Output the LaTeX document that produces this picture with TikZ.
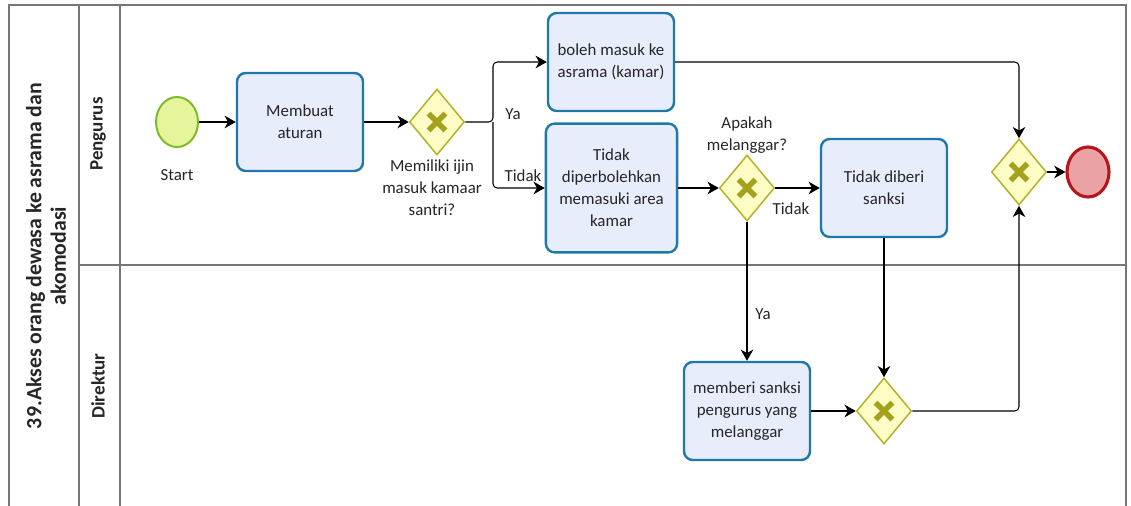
\documentclass[tikz,border=0pt]{standalone}
\usepackage{fontspec}
\setmainfont{Carlito}
\usetikzlibrary{arrows.meta,shapes.geometric}

\definecolor{taskfill}{HTML}{E8EDFB}
\definecolor{taskline}{HTML}{1F78A8}
\definecolor{gwfill}{HTML}{FFFDC6}
\definecolor{gwline}{HTML}{B4B42C}
\definecolor{gwmark}{HTML}{A2A21E}
\definecolor{startfill}{HTML}{E6F59C}
\definecolor{startline}{HTML}{7BBA28}
\definecolor{endfill}{HTML}{EBA2A5}
\definecolor{endline}{HTML}{B5161C}
\definecolor{laneline}{HTML}{767676}

\begin{document}
\begin{tikzpicture}[
  x=0.025cm, y=-0.025cm,
  every node/.style={font=\fontsize{12}{15.6}\selectfont, align=center, text=black!85},
  task/.style={draw=taskline, fill=taskfill, line width=1.7pt, rounded corners=0.22cm,
    minimum width=3.15cm, minimum height=2.45cm, inner sep=2pt},
  gateway/.style={diamond, draw=gwline, fill=gwfill, line width=1.1pt,
    minimum width=1.375cm, minimum height=1.65cm, inner sep=0pt,
    path picture={\draw[gwmark, line width=4pt]
      ([shift={(-6pt,-6pt)}]path picture bounding box.center) -- ([shift={(6pt,6pt)}]path picture bounding box.center)
      ([shift={(-6pt,6pt)}]path picture bounding box.center) -- ([shift={(6pt,-6pt)}]path picture bounding box.center);}},
  startev/.style={ellipse, draw=startline, fill=startfill, line width=1.4pt, minimum width=1.05cm, minimum height=1.25cm, inner sep=0pt},
  endev/.style={ellipse, draw=endline, fill=endfill, line width=2.2pt, minimum width=1.05cm, minimum height=1.25cm, inner sep=0pt},
  lane/.style={draw=laneline, line width=1pt},
  lanetitle/.style={rotate=90, font=\fontsize{13.5}{16}\selectfont\bfseries},
  flow/.style={draw, line width=0.75pt, rounded corners=3pt, -{Stealth[length=8pt, width=9pt, inset=2.5pt]}},
  lbl/.style={inner sep=1pt}
]
\useasboundingbox (0,0) rectangle (1131,506);

% pool and lanes
\draw[lane] (9,506) -- (9,5) -- (1126,5) -- (1126,506);
\draw[lane] (79,5) -- (79,506);
\draw[lane] (120,5) -- (120,506);
\draw[lane] (79,265) -- (1126,265);
\node[rotate=90, font=\fontsize{15.5}{17.5}\selectfont\bfseries] (pool) at (46,256) {39.Akses orang dewasa ke asrama dan\\akomodasi};
\node[lanetitle] (pengurus) at (98,134) {Pengurus};
\node[lanetitle] (direktur) at (98,386) {Direktur};

% Pengurus
\node[startev] (start) at (177,122) {};
\node[lbl] (startlbl) at (177,175) {Start};
\node[task] (aturan) at (300,122) {Membuat\\aturan};
\node[gateway] (g1) at (437,122) {};
\node[lbl] (g1lbl) at (432,188) {Memiliki ijin\\masuk kamaar\\santri?};
\coordinate (split) at (493,122);
\node[task] (boleh) at (611,62) {boleh masuk ke\\asrama (kamar)};
\node[task, minimum width=3.28cm, minimum height=3.22cm] (tidak) at (611.5,188) {Tidak\\diperbolehkan\\memasuki area\\kamar};
\node[gateway] (g2) at (747,188) {};
\node[lbl] (g2lbl) at (747,135) {Apakah\\melanggar?};
\node[task] (tdkdiberi) at (884,188) {Tidak diberi\\sanksi};
\node[gateway] (g3) at (1019,172) {};
\node[endev] (end) at (1088,172) {};

% Direktur
\node[task] (sanksi) at (747,411) {memberi sanksi\\pengurus yang\\melanggar};
\node[gateway] (g4) at (884,411) {};

% flows
\draw[flow] (start) -- (aturan);
\draw[flow] (aturan) -- (g1);
\draw[flow] (g1.east) -- (split) |- (boleh.west);
\draw[flow] (split) |- (tidak.west);
\node[lbl] (ya1) at (513,114) {Ya};
\node[lbl] (tidak1) at (523,176) {Tidak};
\draw[flow] (boleh.east) -| (g3.north);
\draw[flow] (tidak.east) -- (g2.west);
\draw[flow] (g2.east) -- (tdkdiberi.west);
\node[lbl] (tidak2) at (791,209) {Tidak};
\draw[flow] (g2.south) -- (sanksi.north);
\node[lbl] (ya2) at (763,314) {Ya};
\draw[flow] (tdkdiberi.south) -- (g4.north);
\draw[flow] (sanksi.east) -- (g4.west);
\draw[flow] (g4.east) -| (g3.south);
\draw[flow] (g3.east) -- (end);
\end{tikzpicture}
\end{document}
